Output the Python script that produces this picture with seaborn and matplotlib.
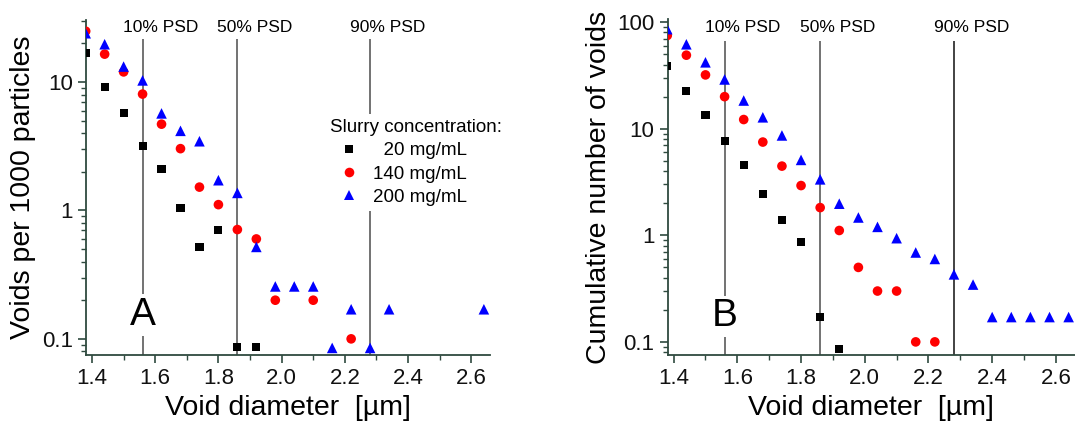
import matplotlib
matplotlib.use("Agg")
import matplotlib.pyplot as plt
from matplotlib.ticker import MultipleLocator, LogLocator, NullFormatter, FixedLocator, FixedFormatter
import pandas as pd
import seaborn as sns

# void diameter bins [um]
diam = [1.38, 1.44, 1.50, 1.56, 1.62, 1.68, 1.74, 1.80, 1.86, 1.92,
        1.98, 2.04, 2.10, 2.16, 2.22, 2.28, 2.34, 2.40, 2.46, 2.52, 2.58, 2.64]

# panel A: voids per 1000 particles (None = no point)
a_20 = [16.9, 9.1, 5.7, 3.16, 2.1, 1.04, 0.52, 0.70, 0.086, 0.086,
        None, None, None, None, None, None, None, None, None, None, None, None]
a_140 = [24.9, 16.5, 12.0, 8.06, 4.7, 3.03, 1.52, 1.11, 0.71, 0.60,
         0.20, None, 0.20, None, 0.10, None, None, None, None, None, None, None]
a_200 = [24.0, 19.7, 13.2, 10.3, 5.7, 4.17, 3.46, 1.72, 1.37, 0.52,
         0.256, 0.256, 0.256, 0.085, 0.17, 0.085, 0.17, None, None, None, None, 0.17]

# panel B: cumulative number of voids
b_20 = [39, 22.5, 13.4, 7.7, 4.56, 2.44, 1.38, 0.87, 0.17, 0.086,
        None, None, None, None, None, None, None, None, None, None, None, None]
b_140 = [75, 49, 32, 20, 12.2, 7.5, 4.46, 2.93, 1.82, 1.11,
         0.50, 0.30, 0.30, 0.10, 0.10, None, None, None, None, None, None, None]
b_200 = [86, 62, 42, 29, 18.4, 12.8, 8.65, 5.1, 3.35, 1.98,
         1.47, 1.2, 0.94, 0.69, 0.60, 0.43, 0.345, 0.171, 0.171, 0.171, 0.171, 0.171]

conc_labels = ["  20 mg/mL", "140 mg/mL", "200 mg/mL"]
psd_x = [1.56, 1.86, 2.28]
psd_labels = ["10% PSD", "50% PSD", "90% PSD"]


def long_form(series):
    rows = []
    for lab, vals in zip(conc_labels, series):
        for d, v in zip(diam, vals):
            if v is not None:
                rows.append({"diam": d, "val": v, "conc": lab})
    return pd.DataFrame(rows)


dfA = long_form([a_20, a_140, a_200])
dfB = long_form([b_20, b_140, b_200])

sns.set_style("ticks")
plt.rcParams["font.family"] = ["Liberation Sans", "DejaVu Sans"]
plt.rcParams["text.color"] = "black"
plt.rcParams["axes.labelcolor"] = "black"

palette = {conc_labels[0]: "black", conc_labels[1]: "red", conc_labels[2]: "blue"}
markers = {conc_labels[0]: "s", conc_labels[1]: "o", conc_labels[2]: "^"}
sizes = {conc_labels[0]: 34, conc_labels[1]: 48, conc_labels[2]: 58}

fig = plt.figure(figsize=(10.75, 4.23), dpi=100)
axA = fig.add_axes([0.080, 0.161, 0.376, 0.792])
axB = fig.add_axes([0.621, 0.161, 0.379, 0.794])

spine_col = "#2f4a3f"

for ax, df, ylim, ytop, ylab in [
        (axA, dfA, (0.075, 30.5), 21.7, "Voids per 1000 particles"),
        (axB, dfB, (0.0755, 107), 67, "Cumulative number of voids")]:
    ax.set_yscale("log")
    ax.set_xlim(1.381, 2.66)
    ax.set_ylim(*ylim)
    for i, x in enumerate(psd_x):
        col = "#222222" if (ax is axB and i == 2) else "#5a5a5a"
        ax.vlines(x, ylim[0], ytop, color=col, lw=1.2, zorder=1)
        ax.annotate(psd_labels[i], xy=(x, 0.976), xycoords=ax.get_xaxis_transform(),
                    xytext=(-20, 0), textcoords="offset pixels",
                    ha="left", va="center", fontsize=12.5, color="black")
    sns.scatterplot(data=df, x="diam", y="val", hue="conc", style="conc", size="conc",
                    palette=palette, markers=markers, sizes=sizes,
                    hue_order=conc_labels, style_order=conc_labels, size_order=conc_labels,
                    linewidth=0, ax=ax, zorder=3, legend=(ax is axA))
    sns.despine(ax=ax)
    for s in ["left", "bottom"]:
        ax.spines[s].set_color(spine_col)
        ax.spines[s].set_linewidth(1.3)
    ax.xaxis.set_major_locator(MultipleLocator(0.2))
    ax.xaxis.set_minor_locator(MultipleLocator(0.1))
    ax.xaxis.set_major_formatter(matplotlib.ticker.FormatStrFormatter("%.1f"))
    ax.yaxis.set_major_locator(FixedLocator([0.1, 1, 10, 100]))
    ax.yaxis.set_major_formatter(FixedFormatter(["0.1", "1", "10", "100"]))
    ax.yaxis.set_minor_locator(LogLocator(base=10, subs=range(2, 10)))
    ax.yaxis.set_minor_formatter(NullFormatter())
    ax.tick_params(which="major", length=6, width=1.2, color=spine_col, labelsize=16, labelcolor="#111111")
    ax.tick_params(which="minor", length=3.5, width=1.0, color=spine_col)
    ax.set_xlabel("Void diameter  [µm]", fontsize=20.5, labelpad=4)
    ax.set_ylabel(ylab, fontsize=20.5, labelpad=4)

axA.text(1.56, 0.154, "A", ha="center", va="center", fontsize=28,
         bbox=dict(facecolor="white", edgecolor="none", pad=2), zorder=2)
axB.text(1.56, 0.174, "B", ha="center", va="center", fontsize=28,
         bbox=dict(facecolor="white", edgecolor="none", pad=2), zorder=2)

handles, labels = axA.get_legend_handles_labels()
leg = axA.legend(handles, labels, title="Slurry concentration:", loc="upper left",
                 bbox_to_anchor=(0.59, 0.72), fontsize=13.5, title_fontsize=13.5,
                 alignment="left", frameon=True, facecolor="white", edgecolor="none",
                 framealpha=1, handlelength=2.0, handletextpad=0.3,
                 labelspacing=0.32, borderpad=0.3, borderaxespad=0)

fig.savefig("out.png", dpi=100)
